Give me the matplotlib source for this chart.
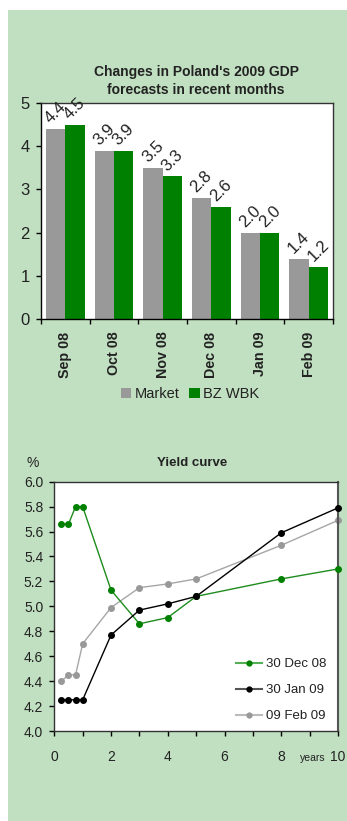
import matplotlib
matplotlib.use("Agg")
import matplotlib.pyplot as plt
from matplotlib.patches import Rectangle
from matplotlib.lines import Line2D
import numpy as np

plt.rcParams['font.family'] = ['Liberation Sans', 'DejaVu Sans']

# GDP forecast data
months = ["Sep 08", "Oct 08", "Nov 08", "Dec 08", "Jan 09", "Feb 09"]
market = [4.4, 3.9, 3.5, 2.8, 2.0, 1.4]
bzwbk = [4.5, 3.9, 3.3, 2.6, 2.0, 1.2]

# Yield curve data
maturities = [0.25, 0.5, 0.75, 1, 2, 3, 4, 5, 8, 10]
dec08 = [5.66, 5.66, 5.80, 5.80, 5.13, 4.86, 4.91, 5.08, 5.22, 5.30]
jan09 = [4.25, 4.25, 4.25, 4.25, 4.77, 4.97, 5.02, 5.08, 5.59, 5.79]
feb09 = [4.40, 4.45, 4.45, 4.70, 4.99, 5.15, 5.18, 5.22, 5.49, 5.69]
curve_labels = ["30 Dec 08", "30 Jan 09", "09 Feb 09"]

BG = "#C1E0C1"
GREEN = "#008000"
GREY = "#999999"
TXT = "#222222"

W, H = 347, 821
fig = plt.figure(figsize=(W / 100, H / 100), dpi=100, facecolor="white")
fig.patches.append(Rectangle((8 / W, 0), 1 - 8 / W, 1 - 10 / H,
                             transform=fig.transFigure, facecolor=BG,
                             edgecolor="none", zorder=-10))

def fx(px):
    return px / W

def fy(py):
    return 1 - py / H

# ---------------- Bar chart ----------------
ax1 = fig.add_axes([fx(41), fy(319), fx(333) - fx(41), fy(103) - fy(319)])
ax1.set_facecolor("white")
x = np.arange(len(months))
bw = 0.4
b1 = ax1.bar(x - bw / 2, market, bw, color=GREY, label="Market")
b2 = ax1.bar(x + bw / 2, bzwbk, bw, color=GREEN, label="BZ WBK")
for bars, vals in ((b1, market), (b2, bzwbk)):
    for rect, v in zip(bars, vals):
        ax1.annotate(f"{v:.1f}", (rect.get_x() + rect.get_width() / 2, v),
                     xytext=(0, 2), textcoords="offset points",
                     ha="center", va="bottom", rotation=45, fontsize=12,
                     color=TXT, annotation_clip=False, clip_on=False)
ax1.set_xlim(-0.5, len(months) - 0.5)
ax1.set_ylim(0, 5)
ax1.set_yticks(range(0, 6))
ax1.tick_params(axis="y", direction="out", length=3.6, width=1, labelsize=12,
                pad=4.4, colors="black", labelcolor=TXT)
ax1.set_xticks(np.arange(-0.5, len(months), 1.0))
ax1.set_xticklabels([])
ax1.set_xticks(x, minor=True)
ax1.set_xticklabels(months, minor=True, rotation=90, fontweight="bold",
                    fontsize=10.3, color=TXT)
ax1.tick_params(axis="x", which="major", direction="out", length=3.6, width=1)
ax1.tick_params(axis="x", which="minor", length=0, pad=9)
for s in ax1.spines.values():
    s.set_color("#333333")
    s.set_linewidth(1)
ax1.spines["left"].set_color("black")
ax1.spines["bottom"].set_color("black")

fig.text(fx(196), fy(81), "Changes in Poland's 2009 GDP\nforecasts in recent months",
         ha="center", va="center", fontsize=10, fontweight="bold",
         color=TXT, linespacing=1.4)

fig.legend(handles=[b1, b2], labels=["Market", "BZ WBK"], loc="center",
           bbox_to_anchor=(fx(190), fy(394)), ncol=2, frameon=False,
           fontsize=10.5, handlelength=0.75, handleheight=0.75,
           handletextpad=0.25, columnspacing=0.6, labelcolor=TXT)

# ---------------- Yield curve ----------------
ax2 = fig.add_axes([fx(54.3), fy(731), fx(338) - fx(54.3), fy(481.7) - fy(731)])
ax2.set_facecolor("white")
ax2.plot(maturities, dec08, color="#1E8C1E", lw=1, marker="o", ms=4,
         mfc=GREEN, mec=GREEN, clip_on=False, zorder=3)
ax2.plot(maturities, jan09, color="black", lw=1, marker="o", ms=4,
         clip_on=False, zorder=4)
ax2.plot(maturities, feb09, color="#A6A6A6", lw=1, marker="o", ms=4,
         mfc="#999999", mec="#999999", clip_on=False, zorder=2)
ax2.set_xlim(0, 10)
ax2.set_ylim(4.0, 6.0)
yt = np.arange(4.0, 6.01, 0.2)
ax2.set_yticks(yt)
ax2.set_yticklabels([f"{v:.1f}" for v in yt])
ax2.set_xticks(range(0, 11, 2))
ax2.set_xticks(range(0, 11), minor=True)
ax2.tick_params(axis="y", direction="out", length=3.6, width=1, labelsize=10,
                pad=4.4, labelcolor=TXT)
ax2.tick_params(axis="x", which="both", direction="out", length=3.6, width=1,
                labelsize=10, pad=10, labelcolor=TXT)
for s in ax2.spines.values():
    s.set_color("#333333")
    s.set_linewidth(1)
ax2.spines["right"].set_color("#555555")
ax2.spines["right"].set_linewidth(1.5)

fig.text(fx(191.7), fy(463), "Yield curve", ha="center", va="center",
         fontsize=9.5, fontweight="bold", color=TXT)
fig.text(fx(32.7), fy(462.7), "%", ha="center", va="center", fontsize=10,
         color=TXT)
fig.text(fx(313), fy(758), "years", ha="center", va="center", fontsize=7.5,
         color=TXT)

handles = [
    Line2D([], [], color="#55B055", lw=1.5, marker="o", ms=3.5, mfc=GREEN, mec=GREEN),
    Line2D([], [], color="#555555", lw=1.5, marker="o", ms=3.5, mfc="black", mec="black"),
    Line2D([], [], color="#BBBBBB", lw=1.5, marker="o", ms=3.5, mfc="#999999", mec="#999999"),
]
fig.legend(handles=handles, labels=curve_labels, loc="upper left",
           bbox_to_anchor=(fx(236), fy(658)), frameon=False, fontsize=9.5,
           handlelength=1.95, handletextpad=0.3, labelspacing=1.05,
           labelcolor=TXT, borderpad=0, borderaxespad=0)

fig.savefig("out.png", dpi=100, facecolor="white")
